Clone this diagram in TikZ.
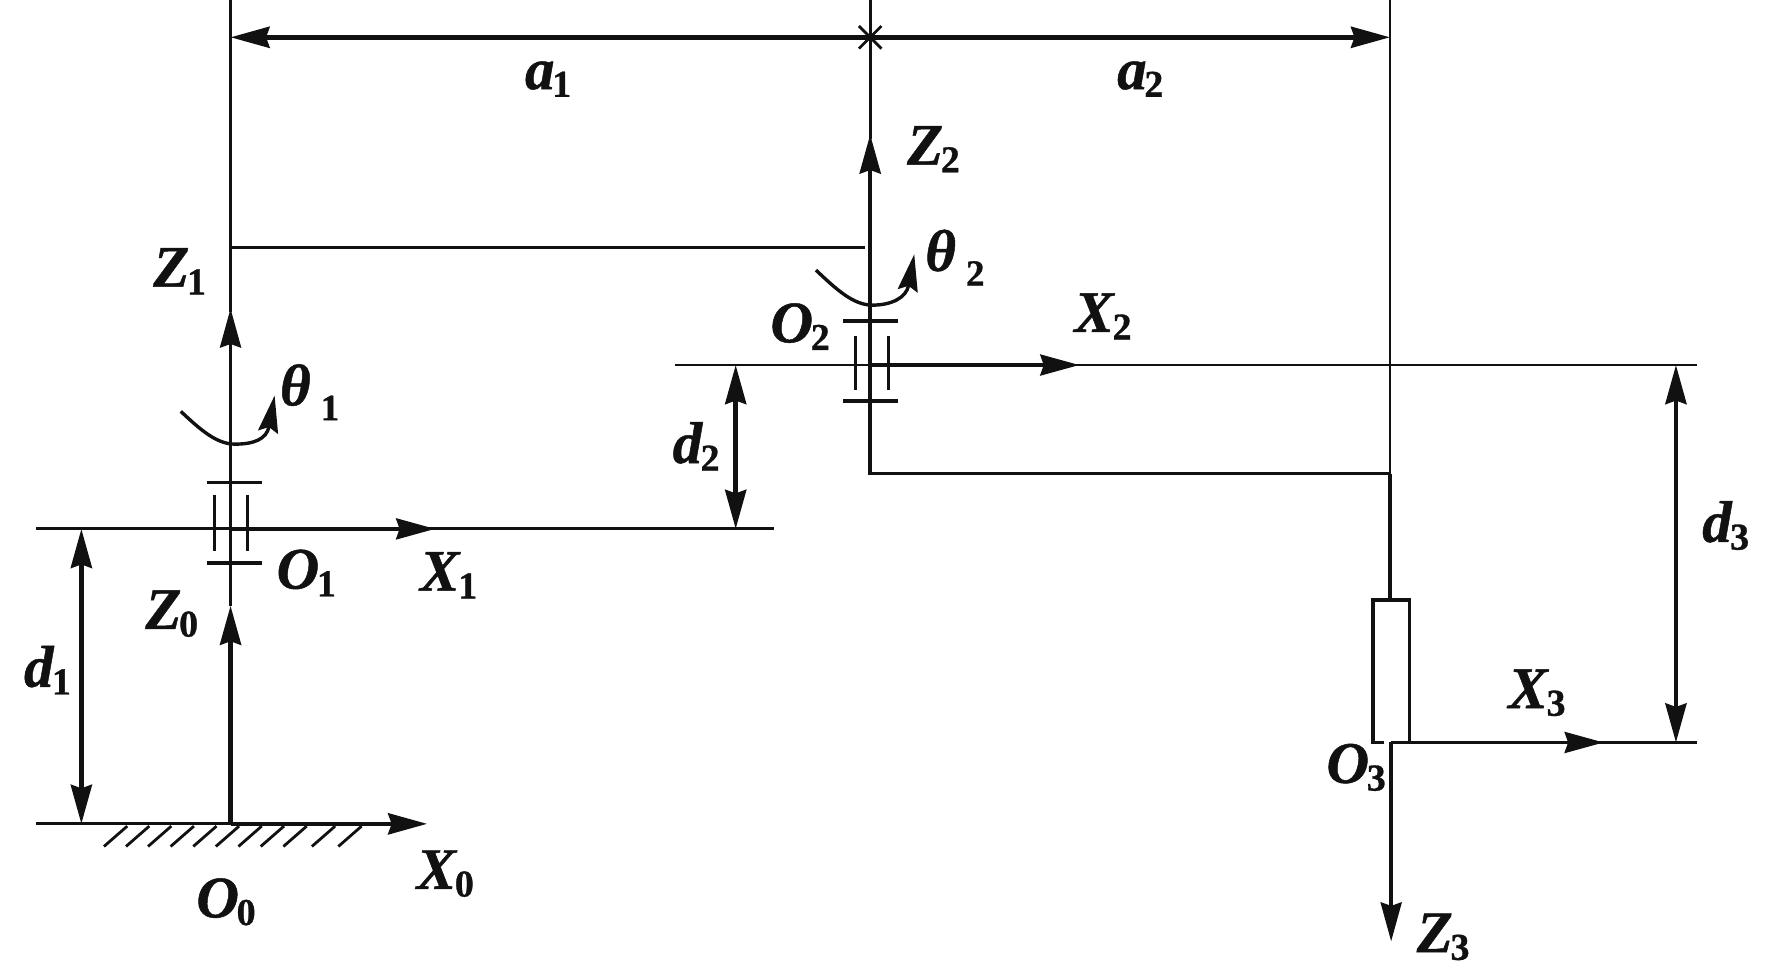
\documentclass[tikz,border=0pt]{standalone}
\usepackage{fontspec}
\setmainfont{Liberation Serif}[BoldItalicFeatures={FakeBold=0.8},BoldFeatures={FakeBold=0.8}]
\usetikzlibrary{arrows.meta}
\definecolor{ink}{HTML}{111111}
\newcommand{\sym}[2]{\textbf{\textit{#1}}\kern-0.04em\raisebox{-0.13em}{\fontsize{38}{38}\selectfont\textbf{#2}}}
\newcommand{\symt}[2]{\textbf{\textit{#1}}\kern0.17em\raisebox{-0.25em}{\fontsize{37}{37}\selectfont\textbf{#2}}}
\tikzset{
  thinln/.style={draw=ink,line width=2.8pt},
  medln/.style={draw=ink,line width=3.4pt},
  thickln/.style={draw=ink,line width=4.6pt},
  head/.style={-{Stealth[length=39pt,width=21pt,inset=3.5pt]}},
  twohead/.style={{Stealth[length=39pt,width=21pt,inset=3.5pt]}-{Stealth[length=39pt,width=21pt,inset=3.5pt]}},
  smallhead/.style={-{Stealth[length=37pt,width=20pt,inset=5pt]}},
  lab/.style={inner sep=0pt,text=ink,font=\fontsize{59}{59}\selectfont}
}
\begin{document}
\begin{tikzpicture}[x=1.1301pt,y=-1.1301pt]
\useasboundingbox (0,-1) rectangle (1568,860);
% named points
\coordinate (A) at (204,-1);
\coordinate (B) at (770,-1);
\coordinate (C) at (1230,-1);
\coordinate (O0p) at (204,728);
\coordinate (O1p) at (204,467);
\coordinate (O2p) at (770,322);
\coordinate (O3p) at (1231,656);
% construction lines
\draw[thinln] (A) -- (204,275);
\draw[thinln] (B) -- (770,122);
\draw[thinln] (C) -- (1230,530);
\draw[medln] (204,218) -- (765,218);
\draw[medln] (770,355) -- (770,418) -- (1230,418);
\draw[medln] (1230,418) -- (1230,530);
% axes
\draw[medln,head] (204,497) -- (204,272);
\draw[thickln,head] (O0p) -- (204,535);
\draw[medln] (204,497) -- (204,535);
\draw[thickln,head] (770,355) -- (770,118);
\draw[thinln] (32,467) -- (685,467);
\draw[medln,head] (O1p) -- (385,467);
\draw[thinln] (597,322) -- (1502,322);
\draw[medln,head] (O2p) -- (955,322);
\draw[thinln] (32,728) -- (204,728);
\draw[thickln,head] (O0p) -- (378,728);
\draw[thinln] (1231,656) -- (1502,656);
\draw[medln,head] (O3p) -- (1419,656);
\draw[medln,head] (O3p) -- (1231,832);
% slider
\draw[medln] (1225,656) -- (1215,656) -- (1215,530) -- (1247,530) -- (1247,656);
% bearings
\draw[medln] (183,426) -- (232,426) (183,497) -- (232,497);
\draw[medln] (190,437) -- (190,487) (219,437) -- (219,487);
\draw[medln] (746,283) -- (795,283) (746,354) -- (795,354);
\draw[medln] (757,296) -- (757,344) (786,296) -- (786,344);
% hatch
\foreach \xx in {92,111.5,131,151,171,191,211,230.7,250.8,276,299.4}
  \draw[thinln] (\xx,748) -- (\xx+20.6,730);
% dimensions
\draw[thickln,twohead] (A |- 0,32) -- (C |- 0,32);
\draw[thinln] (760,22) -- (780,42) (760,42) -- (780,22);
\draw[thickln,twohead] (72,467) -- (72,728);
\draw[thickln,twohead] (651,322) -- (651,467);
\draw[thickln,twohead] (1483,322) -- (1483,656);
% rotation arrows
\draw[medln,smallhead] (160,363) .. controls (178,380) and (192,392) .. (208,392) .. controls (224,392) and (236,388) .. (243,349);
\draw[medln,smallhead] (722,238) .. controls (740,255) and (755,269) .. (772,269) .. controls (788,269) and (802,263) .. (809,224);
% labels
\node[lab] (a1) at (485,69) {\sym{a}{1}};
\node[lab] (a2) at (1009,69) {\sym{a}{2}};
\node[lab] (z2) at (826,131) {\sym{Z}{2}};
\node[lab] (t2) at (845,227) {\symt{θ}{2}};
\node[lab] (x2) at (976,279) {\sym{X}{2}};
\node[lab] (o2) at (708,288) {\sym{O}{2}};
\node[lab] (d2) at (616,394) {\sym{d}{2}};
\node[lab] (z1) at (159,239) {\sym{Z}{1}};
\node[lab] (t1) at (274,346) {\symt{θ}{1}};
\node[lab] (o1) at (271,506) {\sym{O}{1}};
\node[lab] (x1) at (397,508) {\sym{X}{1}};
\node[lab] (z0) at (152,542) {\sym{Z}{0}};
\node[lab] (d1) at (42,592) {\sym{d}{1}};
\node[lab] (x0) at (394,772) {\sym{X}{0}};
\node[lab] (o0) at (200,797) {\sym{O}{0}};
\node[lab] (x3) at (1360,612) {\sym{X}{3}};
\node[lab] (o3) at (1200,678) {\sym{O}{3}};
\node[lab] (z3) at (1277,828) {\sym{Z}{3}};
\node[lab] (d3) at (1527,464) {\sym{d}{3}};
\end{tikzpicture}
\end{document}
